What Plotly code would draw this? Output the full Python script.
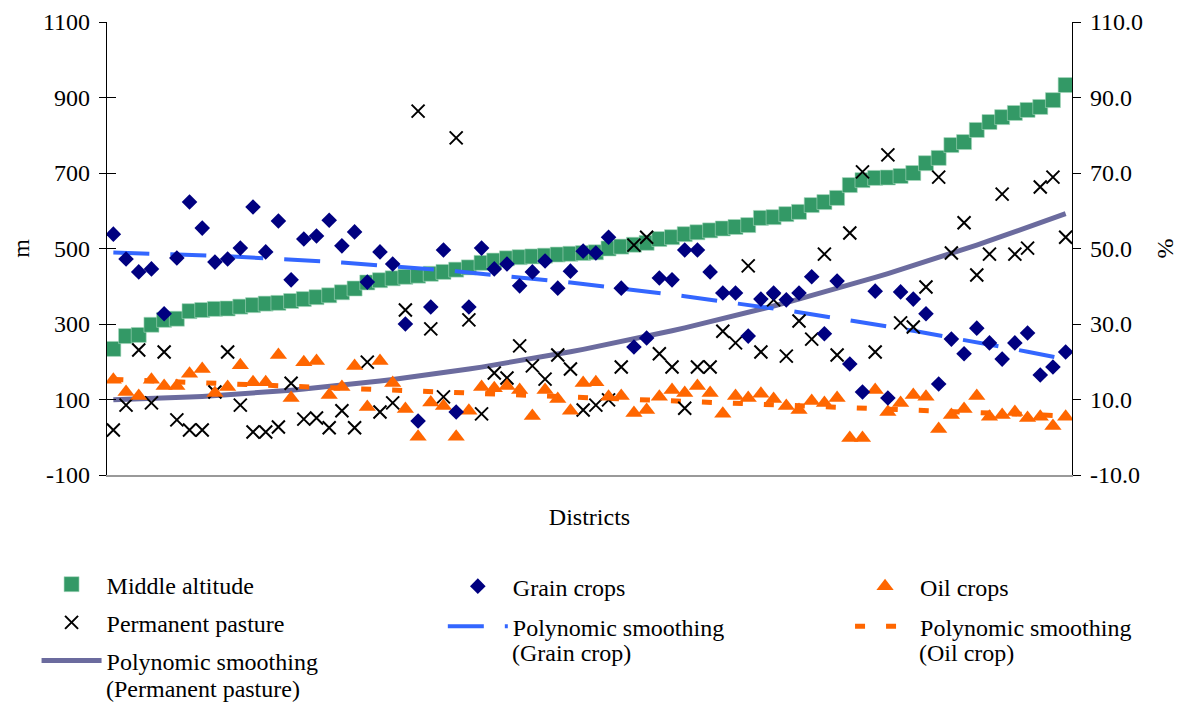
import numpy as np
import plotly.graph_objects as go

districts = list(range(1, 77))

# Middle altitude (m)
altitude = [234, 268, 271, 298, 311, 314, 334, 337, 340, 341, 346, 350, 354,
            356, 361, 366, 371, 376, 384, 394, 410, 416, 421, 425, 428, 433,
            438, 444, 450, 462, 468, 474, 477, 479, 481, 484, 486, 488, 490,
            500, 505, 510, 515, 525, 530, 538, 543, 548, 553, 557, 562, 581,
            583, 591, 597, 615, 623, 634, 668, 681, 687, 688, 692, 700, 726,
            740, 774, 782, 814, 835, 848, 859, 867, 875, 893, 933]

# Grain crops (%)
grain = [53.8, 47.2, 43.8, 44.6, 32.7, 47.5, 62.3, 55.4, 46.4, 47.2, 50.1, 61.0, 49.1,
         57.3, 41.7, 52.5, 53.3, 57.5, 50.7, 54.4, 41.1, 49.1, 45.9, 30.0, 4.3, 34.5,
         49.6, 6.7, 34.5, 50.1, 44.6, 45.9, 40.1, 43.8, 46.7, 39.5, 44.0, 49.3,
         48.8, 53.0, 39.5, 23.9, 26.3, 42.2, 41.7, 49.6, 49.6, 43.8, 38.2, 38.2, 26.8,
         36.6, 38.2, 36.4, 38.2, 42.5, 27.4, 41.4, 19.4, 12.0, 38.7, 10.4, 38.5,
         36.6, 32.7, 14.1, 26.0, 22.1, 28.9, 25.0, 20.7, 25.0, 27.6, 16.5, 18.6, 22.6]

# Oil crops (%)
oil = [15.2, 12.0, 10.9, 15.2, 13.6, 13.6, 16.8, 18.1, 11.7, 13.3, 19.1, 14.6, 14.6,
       21.8, 10.4, 19.9, 20.2, 11.2, 13.3, 18.9, 8.0, 20.2, 14.4, 7.5, 0.1, 9.2,
       8.3, 0.1, 7.0, 13.3, 13.0, 13.6, 12.5, 5.6, 12.5, 10.1, 7.0, 14.4,
       14.6, 10.7, 10.9, 6.4, 7.2, 10.7, 12.5, 11.7, 13.6, 11.7, 6.2, 10.9, 10.4,
       11.5, 10.1, 8.3, 7.2, 9.6, 9.1, 10.4, -0.2, -0.2, 12.5, 6.7, 9.1,
       11.2, 10.7, 2.2, 5.9, 7.5, 10.9, 5.4, 5.9, 6.7, 5.1, 5.4, 3.0, 5.4]

# Permanent pasture (%)
pasture = [1.9, 8.5, 23.1, 9.1, 22.6, 4.6, 1.9, 1.9, 12.0, 22.6, 8.5, 1.4, 1.4,
           2.7, 14.3, 4.8, 5.1, 2.5, 7.0, 2.5, 19.9, 6.7, 9.1, 33.7, 86.4,
           28.7, 10.7, 79.3, 31.1, 6.2, 17.0, 15.7, 24.2, 18.9, 15.4, 21.8, 18.1, 7.2,
           8.5, 9.9, 18.6, 50.9, 53.0, 22.1, 18.6, 7.7, 18.6, 18.6, 28.1, 25.0, 45.4,
           22.6, 36.4, 21.5, 30.8, 26.0, 48.5, 21.8, 54.1, 70.3, 22.6, 74.8, 30.3,
           29.2, 39.8, 68.9, 48.8, 56.8, 43.0, 48.5, 64.4, 48.5, 50.1, 66.3, 68.9, 53.0]

left_ticks = [-100, 100, 300, 500, 700, 900, 1100]
left_labels = ["-100", "100", "300", "500", "700", "900", "1100"]
right_ticks = [-10, 10, 30, 50, 70, 90, 110]
right_labels = ["-10.0", "10.0", "30.0", "50.0", "70.0", "90.0", "110.0"]

x = np.array(districts, dtype=float)


def poly_trend(values, deg=2):
    coef = np.polyfit(x, np.array(values, dtype=float), deg)
    return np.polyval(coef, x)


FONT = "Liberation Serif"
FS = 24

fig = go.Figure()

# smoothing lines (drawn first, under markers)
fig.add_trace(go.Scatter(
    x=districts, y=poly_trend(pasture), yaxis="y2", mode="lines",
    name="Polynomic smoothing", legend="legend",
    legendgroup="g7", legendrank=3,
    line=dict(color="#6b6b9e", width=5)))
fig.add_trace(go.Scatter(
    x=districts, y=poly_trend(grain), yaxis="y2", mode="lines",
    name="Polynomic smoothing", legend="legend2",
    legendgroup="g5", legendrank=2,
    line=dict(color="#3366ff", width=4, dash="36px,21px")))
fig.add_trace(go.Scatter(
    x=districts, y=poly_trend(oil), yaxis="y2", mode="lines",
    name="Polynomic smoothing", legend="legend3",
    legendgroup="g6", legendrank=2,
    line=dict(color="#ff6600", width=5, dash="10px,21px")))

fig.add_trace(go.Scatter(
    x=districts, y=altitude, yaxis="y", mode="markers", name="Middle altitude",
    legend="legend", legendgroup="g1", legendrank=1,
    marker=dict(symbol="square", size=15, color="#339966",
                line=dict(width=0.6, color="#a8d8be"))))
fig.add_trace(go.Scatter(
    x=districts, y=pasture, yaxis="y2", mode="markers", name="Permanent pasture",
    legend="legend", legendgroup="g4", legendrank=2,
    marker=dict(symbol="x-thin", size=13, color="#000000",
                line=dict(width=2, color="#000000"))))
fig.add_trace(go.Scatter(
    x=districts, y=oil, yaxis="y2", mode="markers", name="Oil crops",
    legend="legend3", legendgroup="g3", legendrank=1,
    marker=dict(symbol="triangle-up", size=15, color="#ff6600")))
fig.add_trace(go.Scatter(
    x=districts, y=grain, yaxis="y2", mode="markers", name="Grain crops",
    legend="legend2", legendgroup="g2", legendrank=1,
    marker=dict(symbol="diamond", size=12, color="#000080")))

# empty helper trace so the inner-tick axis is drawn
fig.add_trace(go.Scatter(x=[], y=[], yaxis="y3", showlegend=False, hoverinfo="skip"))

legend_common = dict(orientation="v", yanchor="top", xanchor="left",
                     traceorder="grouped", valign="top",
                     itemwidth=60, bgcolor="rgba(0,0,0,0)",
                     font=dict(family=FONT, size=FS))
LY = -0.1966

# second lines of the two-line legend labels
sub_labels = [
    ("(Grain crop)", 0.4187, -0.3929),
    ("(Oil crop)", 0.8405, -0.3929),
    ("(Permanent pasture)", -0.002, -0.4724),
]
annotations = [
    dict(text=t, x=ax, y=ay, xref="paper", yref="paper", xanchor="left",
         yanchor="middle", showarrow=False, borderpad=0,
         font=dict(family=FONT, size=FS))
    for t, ax, ay in sub_labels
]

fig.update_layout(
    width=1184, height=702,
    margin=dict(l=99, r=120, t=14, b=235, autoexpand=False),
    paper_bgcolor="white", plot_bgcolor="white",
    font=dict(family=FONT, size=FS, color="#000000"),
    showlegend=True,
    annotations=annotations,
    legend=dict(x=-0.073, y=LY + 0.0044, tracegroupgap=4, **legend_common),
    legend2=dict(x=0.348, y=LY, tracegroupgap=6, **legend_common),
    legend3=dict(x=0.770, y=LY, tracegroupgap=6, **legend_common),
    xaxis=dict(range=[0.5, 76.5], showticklabels=False, ticks="", showgrid=False,
               zeroline=False, showline=True, linecolor="#999999", linewidth=2,
               title=dict(text="Districts", standoff=32,
                          font=dict(family=FONT, size=FS))),
    yaxis=dict(range=[-100, 1100], tickvals=left_ticks, ticktext=left_labels,
               ticks="outside", ticklen=7,
               tickwidth=1.3, tickcolor="#000000", showgrid=False, zeroline=False,
               showline=True, linecolor="#000000", linewidth=1.3,
               ticklabelstandoff=4,
               tickfont=dict(family=FONT, size=FS),
               title=dict(text="m", standoff=23, font=dict(family=FONT, size=FS))),
    yaxis2=dict(range=[-10, 110], tickvals=right_ticks, ticktext=right_labels,
                overlaying="y", side="right", ticks="outside", ticklen=8,
                tickwidth=1.3, tickcolor="#000000", showgrid=False, zeroline=False,
                showline=True, linecolor="#000000", linewidth=1.3,
                ticklabelstandoff=4,
                tickfont=dict(family=FONT, size=FS),
                title=dict(text="%", standoff=14, font=dict(family=FONT, size=FS))),
    yaxis3=dict(range=[-100, 1100], tickvals=left_ticks, overlaying="y", side="left",
                ticks="inside", ticklen=9, tickwidth=1.3, tickcolor="#000000",
                showticklabels=False, showgrid=False, zeroline=False, showline=False),
)

fig.write_html("out.html")
